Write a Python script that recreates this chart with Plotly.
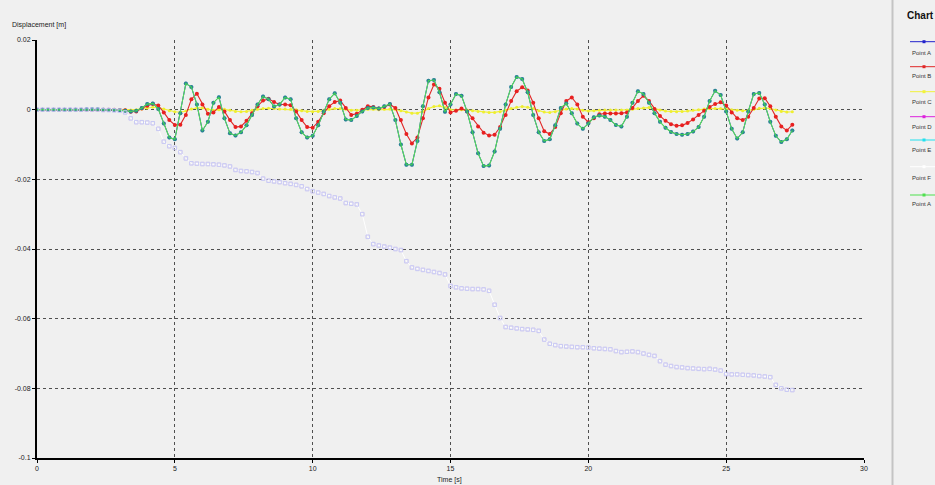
import numpy as np
import plotly.graph_objects as go

# Sample times [s], 0.2 s step
time_s = np.round(np.arange(138) * 0.2, 1)

# Displacements in millimetres at each sample time
point_a_mm = [
    0, 0, 0, 0, 0, 0, 0, 0, 0, 0.1,
    0.1, 0.1, 0, -0.1, -0.1, -0.2, -0.3, -0.5, -0.3, 0.5,
    1.6, 1.8, 0.2, -4.0, -8.0, -8.5, -1.0, 7.5, 6.5, 1.5,
    -6.0, -3.5, 2.0, 3.6, -2.5, -6.8, -7.4, -6.5, -4.5, -1.5,
    1.5, 3.8, 3.0, 0.9, 1.5, 3.5, 3.0, -2.5, -6.5, -8.0,
    -7.5, -4.5, -0.5, 3.0, 4.7, 2.0, -2.8, -3.0, -1.8, -0.5,
    0.5, 0.6, 0.3, 1.0, 1.6, -3.0, -10.0, -15.8, -15.8, -9.0,
    1.0, 8.3, 8.5, 5.0, -0.6, 1.5, 4.5, 4.0, -0.5, -6.5,
    -12.5, -16.2, -16.0, -12.0, -5.5, 1.5, 6.5, 9.4, 8.8, 5.0,
    -1.5, -6.5, -9.0, -8.5, -4.5, 0.5, 1.8, -1.0, -4.0, -5.5,
    -4.0, -2.2, -1.7, -2.0, -3.0, -4.4, -4.8, -2.0, 2.0, 5.3,
    4.5, 2.0, -1.0, -3.5, -5.2, -6.4, -7.0, -7.2, -7.0, -6.3,
    -5.0, -2.0, 2.5, 5.4, 4.2, -0.5, -5.5, -8.3, -6.5, -0.5,
    4.5, 4.8, 1.5, -3.5, -7.5, -9.3, -8.5, -6.0,
]

point_b_mm = [
    0, 0, 0, 0, 0, 0, 0, 0, 0, 0,
    0, 0, 0, 0, 0, -0.1, -0.2, -0.6, -0.5, 0.3,
    1.1, 1.6, 1.2, -0.8, -3.0, -4.4, -4.3, -1.5, 3.0, 4.6,
    1.5, -1.2, -0.8, 0.8, -0.5, -3.0, -5.0, -4.8, -3.2, -1.0,
    1.0, 2.6, 3.1, 2.2, 1.5, 1.5, 1.3, -0.5, -3.0, -5.0,
    -5.2, -3.5, -1.0, 1.0, 2.2, 2.6, 0.5, -1.5, -1.2, 0.0,
    1.0, 0.8, 0.3, 0.8, 1.5, 0.5, -3.0, -7.0, -9.7, -8.0,
    -2.5, 3.5, 7.2, 6.0, 2.0, -0.8, -0.3, 0.3, -0.5, -2.5,
    -4.8, -6.6, -7.4, -7.2, -5.0, -1.5, 2.5, 5.3, 6.4, 5.5,
    2.0, -2.5, -6.2, -7.0, -5.0, -1.0, 2.5, 3.5, 1.5, -2.0,
    -3.6, -2.5, -1.3, -1.1, -1.1, -1.1, -1.0, -0.8, 0.5, 2.5,
    4.0, 2.5, 0.2, -1.8, -3.2, -4.2, -4.6, -4.5, -3.8, -2.8,
    -1.5, -0.3, 0.8, 1.6, 2.1, 1.2, -0.8, -2.5, -3.0, -2.0,
    0.5, 3.2, 3.3, 1.0, -2.0, -4.8, -6.0, -4.3,
]

point_c_mm = [
    0, 0, 0, 0, 0, 0, 0, 0, 0, 0,
    0, 0, 0, 0, 0, 0, 0, -0.1, 0, 0.2,
    0.5, 0.7, 0.6, 0.2, -0.3, -0.6, -0.7, -0.4, 0.2, 0.5,
    0.5, 0.1, -0.2, 0, 0.1, -0.2, -0.5, -0.6, -0.5, -0.2,
    0.1, 0.3, 0.4, 0.3, 0.2, 0.2, 0.1, 0, -0.3, -0.5,
    -0.6, -0.5, -0.2, 0.1, 0.3, 0.3, 0.1, -0.2, -0.2, 0,
    0.1, 0.1, 0, 0.1, 0.2, 0.1, -0.3, -0.7, -1.0, -1.0,
    -0.5, 0.3, 0.9, 1.1, 0.6, 0, -0.1, 0, -0.1, -0.3,
    -0.5, -0.7, -0.8, -0.8, -0.6, -0.2, 0.3, 0.7, 0.9, 0.7,
    0.3, -0.3, -0.7, -0.8, -0.6, -0.2, 0.2, 0.3, 0.2, -0.2,
    -0.4, -0.3, -0.2, -0.1, -0.1, -0.1, -0.1, -0.1, 0.1, 0.3,
    0.5, 0.6, 0.3, -0.1, -0.4, -0.5, -0.6, -0.5, -0.4, -0.2,
    0, 0.2, 0.3, 0.3, 0.3, 0.2, 0, -0.2, -0.3, -0.2,
    0.1, 0.4, 0.5, 0.3, -0.1, -0.5, -0.7, -0.6,
]

# Points D, E and F follow the same settlement curve
point_d_mm = [
    0, 0, 0, 0, 0, 0, 0, 0, 0, 0,
    0, 0, -0.1, -0.1, -0.2, -0.3, -0.8, -2.5, -3.6, -3.6,
    -3.7, -3.9, -5.5, -9.2, -10.5, -11.0, -12.2, -14.0, -15.4, -15.5,
    -15.6, -15.6, -15.7, -15.8, -16.0, -16.3, -17.3, -17.6, -17.7, -17.9,
    -18.2, -19.8, -20.4, -20.6, -20.8, -21.1, -21.3, -21.6, -22.0, -22.8,
    -23.4, -23.8, -24.2, -24.8, -25.2, -25.5, -26.8, -27.0, -27.2, -30.0,
    -36.5, -38.6, -39.0, -39.3, -39.6, -40.0, -40.3, -43.5, -45.3, -45.7,
    -46.0, -46.3, -46.6, -46.9, -47.3, -50.6, -51.0, -51.3, -51.4, -51.5,
    -51.5, -51.6, -52.0, -56.0, -59.8, -62.4, -62.6, -62.8, -63.0, -63.1,
    -63.2, -63.5, -66.0, -67.2, -67.6, -67.9, -68.0, -68.1, -68.2, -68.2,
    -68.3, -68.5, -68.6, -68.7, -68.8, -69.3, -69.6, -69.5, -69.4, -69.6,
    -70.0, -70.4, -70.7, -72.2, -73.2, -73.6, -73.9, -74.0, -74.2, -74.3,
    -74.4, -74.5, -74.4, -74.6, -74.9, -75.9, -76.0, -76.0, -76.1, -76.2,
    -76.3, -76.5, -76.6, -76.8, -79.0, -80.0, -80.4, -80.5,
]

x_ticks = [0, 5, 10, 15, 20, 25, 30]
y_ticks = [0.02, 0, -0.02, -0.04, -0.06, -0.08, -0.1]
y_tick_text = ["0.02", "0", "-0.02", "-0.04", "-0.06", "-0.08", "-0.1"]

legend_names = ["Point A", "Point B", "Point C", "Point D", "Point E", "Point F", "Point A"]
legend_colors = ["#2222cc", "#e02828", "#f2f23a", "#dd22dd", "#22e0ee", "#ffffff", "#4ee04e"]


def metres(values_mm):
    return [v / 1000.0 for v in values_mm]


W, H = 935, 485
ML, MR, MT, MB = 37, 71, 40, 27
PW, PH = W - ML - MR, H - MT - MB


def px(x):
    return (x - ML) / PW


def py(y):
    return (H - MB - y) / PH


FONT = "Liberation Sans"

fig = go.Figure()

# Point F: white line along the settlement curve (lowest layer)
fig.add_trace(go.Scatter(x=time_s, y=metres(point_d_mm), mode="lines",
                         line=dict(color="#ffffff", width=1), name="Point F"))

fig.add_trace(go.Scatter(x=time_s, y=metres(point_c_mm), mode="lines+markers",
                         line=dict(color="#f2f23a", width=1.2),
                         marker=dict(size=3, color="#eeee30"), name="Point C"))

fig.add_trace(go.Scatter(x=time_s, y=metres(point_b_mm), mode="lines+markers",
                         line=dict(color="#e02828", width=1.1),
                         marker=dict(size=4, color="#e82020"), name="Point B"))

# Point A (blue) with the green Point A drawn over it
fig.add_trace(go.Scatter(x=time_s, y=metres(point_a_mm), mode="lines+markers",
                         line=dict(color="#2222cc", width=1),
                         marker=dict(size=4, color="#2456c4"), name="Point A"))
fig.add_trace(go.Scatter(x=time_s, y=metres(point_a_mm), mode="lines+markers",
                         line=dict(color="#55e055", width=1.1),
                         marker=dict(size=4, color="#30c050", opacity=0.45),
                         name="Point A"))

# Points D and E: pale open squares on the settlement curve
fig.add_trace(go.Scatter(x=time_s, y=metres(point_d_mm), mode="markers",
                         marker=dict(symbol="square-open", size=3.5, color="#dcb8f4",
                                     line=dict(width=1)),
                         opacity=0.8, name="Point D"))
fig.add_trace(go.Scatter(x=time_s, y=metres(point_d_mm), mode="markers",
                         marker=dict(symbol="square-open", size=3.5, color="#aed4f6",
                                     line=dict(width=1)),
                         opacity=0.45, name="Point E"))

axis_common = dict(
    showgrid=True, gridcolor="#505050", gridwidth=1, griddash="dot",
    zeroline=False, showline=True, linecolor="#000000", linewidth=2,
    ticks="outside", ticklen=3, tickcolor="#000000",
    tickfont=dict(family=FONT, size=7, color="#222222"),
)

fig.update_layout(
    width=W, height=H,
    margin=dict(l=ML, r=MR, t=MT, b=MB),
    paper_bgcolor="#f0f0f0", plot_bgcolor="#f0f0f0",
    showlegend=False,
    xaxis=dict(range=[0, 30], tickvals=x_ticks, **axis_common),
    yaxis=dict(range=[-0.1, 0.02], tickvals=y_ticks, ticktext=y_tick_text, **axis_common),
)

shapes = []
annotations = []

# axis titles
annotations.append(dict(x=px(10), y=py(25), xref="paper", yref="paper",
                        text="Displacement [m]", showarrow=False,
                        xanchor="left", yanchor="middle",
                        font=dict(family=FONT, size=7, color="#222222")))
annotations.append(dict(x=px(449), y=py(480), xref="paper", yref="paper",
                        text="Time [s]", showarrow=False,
                        xanchor="center", yanchor="middle",
                        font=dict(family=FONT, size=7, color="#222222")))

# divider between the plot and the legend panel
shapes.append(dict(type="line", xref="paper", yref="paper",
                   x0=px(892.5), x1=px(892.5), y0=py(0), y1=py(H),
                   line=dict(color="#c4c4c4", width=2)))

# legend panel
annotations.append(dict(x=px(905), y=py(16), xref="paper", yref="paper",
                        text="<b>Chart</b>", showarrow=False,
                        xanchor="left", yanchor="middle",
                        font=dict(family=FONT, size=10, color="#111111")))

line_rows = [41.7, 66.7, 91.7, 116.7, 140.0, 166.7, 195.0]
label_rows = [52.7, 76.0, 101.7, 126.7, 150.0, 178.0, 204.0]
for name, color, ly, ty in zip(legend_names, legend_colors, line_rows, label_rows):
    shapes.append(dict(type="line", xref="paper", yref="paper",
                       x0=px(910), x1=px(940), y0=py(ly), y1=py(ly),
                       line=dict(color=color, width=1)))
    shapes.append(dict(type="rect", xref="paper", yref="paper",
                       x0=px(922.5), x1=px(925.5), y0=py(ly - 1.5), y1=py(ly + 1.5),
                       line=dict(width=0), fillcolor=color))
    annotations.append(dict(x=px(910), y=py(ty), xref="paper", yref="paper",
                            text=name, showarrow=False,
                            xanchor="left", yanchor="middle",
                            font=dict(family=FONT, size=6, color="#333333")))

fig.update_layout(shapes=shapes, annotations=annotations)

fig.write_html("out.html")
